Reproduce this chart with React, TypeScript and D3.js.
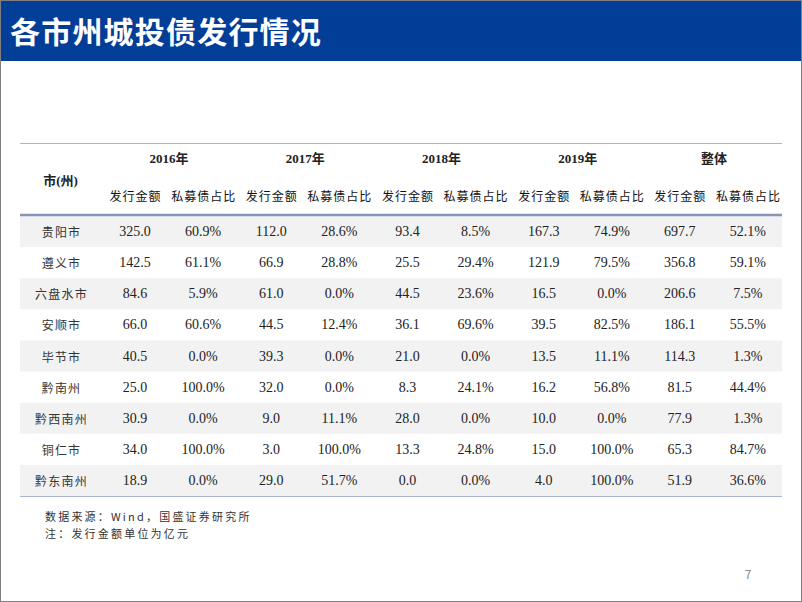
import React from "react";
import * as d3 from "d3";

const title = "各市州城投债发行情况";
const cities = ["贵阳市", "遵义市", "六盘水市", "安顺市", "毕节市", "黔南州", "黔西南州", "铜仁市", "黔东南州"];
const years = ["2016年", "2017年", "2018年", "2019年", "整体"];
const subHeaders = ["发行金额", "私募债占比"];

const amount2016 = [325.0, 142.5, 84.6, 66.0, 40.5, 25.0, 30.9, 34.0, 18.9];
const share2016 = [60.9, 61.1, 5.9, 60.6, 0.0, 100.0, 0.0, 100.0, 0.0];
const amount2017 = [112.0, 66.9, 61.0, 44.5, 39.3, 32.0, 9.0, 3.0, 29.0];
const share2017 = [28.6, 28.8, 0.0, 12.4, 0.0, 0.0, 11.1, 100.0, 51.7];
const amount2018 = [93.4, 25.5, 44.5, 36.1, 21.0, 8.3, 28.0, 13.3, 0.0];
const share2018 = [8.5, 29.4, 23.6, 69.6, 0.0, 24.1, 0.0, 24.8, 0.0];
const amount2019 = [167.3, 121.9, 16.5, 39.5, 13.5, 16.2, 10.0, 15.0, 4.0];
const share2019 = [74.9, 79.5, 0.0, 82.5, 11.1, 56.8, 0.0, 100.0, 100.0];
const amountTotal = [697.7, 356.8, 206.6, 186.1, 114.3, 81.5, 77.9, 65.3, 51.9];
const shareTotal = [52.1, 59.1, 7.5, 55.5, 1.3, 44.4, 1.3, 84.7, 36.6];

const source = "数据来源：Wind，国盛证券研究所";
const note = "注：发行金额单位为亿元";
const pageNo = "7";

const W = 802;
const H = 602;

export default function App() {
  const groups = [
    [amount2016, share2016],
    [amount2017, share2017],
    [amount2018, share2018],
    [amount2019, share2019],
    [amountTotal, shareTotal],
  ];
  const tableLeft = 20;
  const firstColW = 81;
  const tableRight = 782;
  const colKeys = d3.range(10);
  const x = d3.scaleBand<number>().domain(colKeys).range([tableLeft + firstColW, tableRight]);
  const y = d3.scaleBand<string>().domain(cities).range([216, 496]);

  const numFont = "'Liberation Serif', 'Times New Roman', serif";
  const cjkFont = "'Noto Sans CJK SC', sans-serif";
  const mixFont = "'Liberation Serif', 'Noto Sans CJK SC', serif";

  return (
    <svg width={W} height={H} style={{ position: "absolute", left: 0, top: 0, background: "#fff" }}>
      <rect x={0} y={0} width={W} height={61} fill="#023d98" />
      <text x={10} y={43} fill="#fff" fontSize={30} fontWeight="bold" fontFamily={cjkFont} letterSpacing={1.2}>
        {title}
      </text>
      <rect x={0.5} y={0.5} width={W - 1} height={H - 1} fill="none" stroke="#808080" strokeWidth={1} />

      {cities.map((c, i) =>
        i % 2 === 0 ? (
          <rect key={c} x={tableLeft} y={y(c)!} width={tableRight - tableLeft} height={y.bandwidth()} fill="#f2f2f2" />
        ) : null
      )}

      <line x1={tableLeft} x2={tableRight} y1={143.5} y2={143.5} stroke="#a7b5cf" strokeWidth={1} />
      <line x1={tableLeft} x2={tableRight} y1={215} y2={215} stroke="#8497bb" strokeWidth={2.5} />
      <line x1={tableLeft} x2={tableRight} y1={496.5} y2={496.5} stroke="#a7b5cf" strokeWidth={1} />

      <text x={tableLeft + firstColW / 2} y={180} textAnchor="middle" dominantBaseline="central" fontSize={13} fontWeight="bold" fontFamily={mixFont} fill="#222">
        市(州)
      </text>
      {years.map((yr, g) => (
        <text key={yr} x={x(g * 2)! + x.bandwidth()} y={158} textAnchor="middle" dominantBaseline="central" fontSize={13} fontWeight="bold" fontFamily={mixFont} fill="#222">
          {yr}
        </text>
      ))}
      {colKeys.map((k) => (
        <text key={k} x={x(k)! + x.bandwidth() / 2 + 0.5} y={195} textAnchor="middle" dominantBaseline="central" fontSize={12} fontFamily={cjkFont} fill="#111" letterSpacing={1}>
          {subHeaders[k % 2]}
        </text>
      ))}

      {cities.map((c, i) => {
        const cy = y(c)! + y.bandwidth() / 2;
        return (
          <g key={c}>
            <text x={tableLeft + firstColW / 2 + 1} y={cy} textAnchor="middle" dominantBaseline="central" fontSize={12} fontFamily={cjkFont} fill="#333" letterSpacing={1.2}>
              {c}
            </text>
            {groups.map(([amt, sh], g) => (
              <g key={g}>
                <text x={x(g * 2)! + x.bandwidth() / 2} y={cy} textAnchor="middle" dominantBaseline="central" fontSize={14} fontFamily={numFont} fill="#222">
                  {amt[i].toFixed(1)}
                </text>
                <text x={x(g * 2 + 1)! + x.bandwidth() / 2} y={cy} textAnchor="middle" dominantBaseline="central" fontSize={14} fontFamily={numFont} fill="#222">
                  {sh[i].toFixed(1) + "%"}
                </text>
              </g>
            ))}
          </g>
        );
      })}

      <text x={45} y={516} dominantBaseline="central" fontSize={11} fontFamily={cjkFont} fill="#333" letterSpacing={2.2}>
        {source}
      </text>
      <text x={45} y={533} dominantBaseline="central" fontSize={11} fontFamily={cjkFont} fill="#333" letterSpacing={2.2}>
        {note}
      </text>
      <text x={748} y={573} textAnchor="middle" dominantBaseline="central" fontSize={12} fontFamily={cjkFont} fill="#8a8a8a">
        {pageNo}
      </text>
    </svg>
  );
}
